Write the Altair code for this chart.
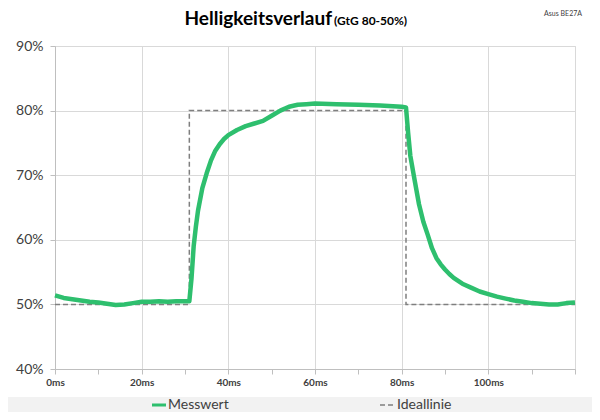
import altair as alt
import pandas as pd

# measured curve (ms, %)
mess_t = [0, 2, 4, 6, 8, 10, 12, 14, 16, 18, 20, 22, 24, 26, 28, 30, 31,
          31.5, 32, 32.5, 33, 34, 35, 36, 37, 38, 39, 40, 42, 44, 46, 48, 50, 52, 54, 56, 58, 60, 65, 70, 75, 80, 81,
          81.5, 82, 83, 84, 85, 86, 87, 88, 89, 90, 91, 92, 94, 96, 98, 100, 102, 104, 106, 108, 110, 112, 114, 116, 118, 120]
mess_v = [51.4, 51.0, 50.8, 50.6, 50.4, 50.3, 50.1, 49.9, 50.0, 50.2, 50.4, 50.4, 50.5, 50.4, 50.5, 50.5, 50.5,
          54.0, 59.0, 62.0, 64.5, 68.0, 70.3, 72.3, 73.8, 74.8, 75.6, 76.2, 77.0, 77.6, 78.0, 78.4, 79.2, 80.0, 80.6, 80.9, 81.0, 81.1, 81.0, 80.9, 80.8, 80.6, 80.5,
          76.5, 73.0, 69.2, 65.5, 62.8, 60.8, 58.7, 57.2, 56.2, 55.4, 54.7, 54.1, 53.2, 52.6, 52.0, 51.6, 51.2, 50.9, 50.6, 50.4, 50.2, 50.1, 50.0, 50.0, 50.2, 50.3]

# ideal line
ideal_t = [0, 31, 31, 81, 81, 120]
ideal_v = [50, 50, 80, 80, 50, 50]

x_ticks = [0, 10, 20, 30, 40, 50, 60, 70, 80, 90, 100, 110, 120]
y_ticks = [40, 50, 60, 70, 80, 90]

GREEN = "#2ebf6e"
GRAY_TXT = "#404040"
FONT = "Lato"

mess = pd.DataFrame({"t": mess_t, "v": mess_v, "o": range(len(mess_t))})
ideal = pd.DataFrame({"t": ideal_t, "v": ideal_v, "o": range(len(ideal_t))})

xs = alt.Scale(domain=[0, 120], nice=False)
ys = alt.Scale(domain=[40, 90], nice=False)

x_axis = alt.Axis(values=x_ticks, grid=True,
                  gridOpacity={"condition": {"test": "datum.value % 20 == 0", "value": 1}, "value": 0},
                  gridColor="#d9d9d9",
                  labelExpr="(datum.value % 20 == 0 && datum.value < 120) ? datum.value + 'ms' : ''",
                  labelFont=FONT, labelFontSize=10, labelFontWeight="bold", labelColor=GRAY_TXT,
                  domainColor="#bfbfbf", tickColor="#bfbfbf", tickSize=5, labelPadding=3,
                  labelFlush=False, labelOverlap=False, title=None)
y_axis = alt.Axis(values=y_ticks, grid=True, gridColor="#d9d9d9",
                  labelExpr="datum.value + '%'",
                  labelFont=FONT, labelFontSize=14, labelColor=GRAY_TXT,
                  domainColor="#bfbfbf", tickColor="#bfbfbf", tickSize=5, labelPadding=7,
                  title=None)

band = alt.Chart(pd.DataFrame({"a": [0]})).mark_rect(color="#f2f2f2").encode(
    x=alt.value(-47), x2=alt.value(537), y=alt.value(351), y2=alt.value(366))

ideal_line = alt.Chart(ideal).mark_line(color="#7f7f7f", strokeDash=[5, 3], strokeWidth=1.5).encode(
    x=alt.X("t:Q", scale=xs, axis=x_axis),
    y=alt.Y("v:Q", scale=ys, axis=y_axis),
    order="o:Q")

mess_line = alt.Chart(mess).mark_line(color=GREEN, strokeWidth=4.5, strokeJoin="round").encode(
    x=alt.X("t:Q", scale=xs),
    y=alt.Y("v:Q", scale=ys),
    order="o:Q")

one = pd.DataFrame({"a": [0]})
title_main = alt.Chart(one).mark_text(text="Helligkeitsverlauf", font=FONT, fontSize=19, fontWeight="bold",
                                      align="right", baseline="alphabetic", color="#000000").encode(
    x=alt.value(277), y=alt.value(-21))
title_sub = alt.Chart(one).mark_text(text="(GtG 80-50%)", font=FONT, fontSize=12, fontWeight="bold",
                                     align="left", baseline="alphabetic", color="#000000").encode(
    x=alt.value(279), y=alt.value(-21))
corner = alt.Chart(one).mark_text(text="Asus BE27A", font=FONT, fontSize=7, align="right",
                                  baseline="top", color=GRAY_TXT).encode(
    x=alt.value(527), y=alt.value(-36))

leg_green = alt.Chart(one).mark_rule(color=GREEN, strokeWidth=3).encode(
    x=alt.value(97), x2=alt.value(111), y=alt.value(359))
leg_green_t = alt.Chart(one).mark_text(text="Messwert", font=FONT, fontSize=14, align="left",
                                       baseline="middle", color=GRAY_TXT).encode(
    x=alt.value(113), y=alt.value(359))
leg_dash = alt.Chart(one).mark_rule(color="#7f7f7f", strokeWidth=1.5, strokeDash=[5, 3]).encode(
    x=alt.value(325), x2=alt.value(339), y=alt.value(359))
leg_dash_t = alt.Chart(one).mark_text(text="Ideallinie", font=FONT, fontSize=14, align="left",
                                      baseline="middle", color=GRAY_TXT).encode(
    x=alt.value(342), y=alt.value(359))

chart = alt.layer(band, ideal_line, mess_line, title_main, title_sub, corner,
                  leg_green, leg_green_t, leg_dash, leg_dash_t).properties(
    width=520, height=323,
    autosize=alt.AutoSizeParams(type="none"),
    padding={"left": 47, "top": 38, "right": 17, "bottom": 43},
).configure_view(stroke=None).configure(background="white")

chart.save("out.html", embed_options={"renderer": "svg", "actions": False})
